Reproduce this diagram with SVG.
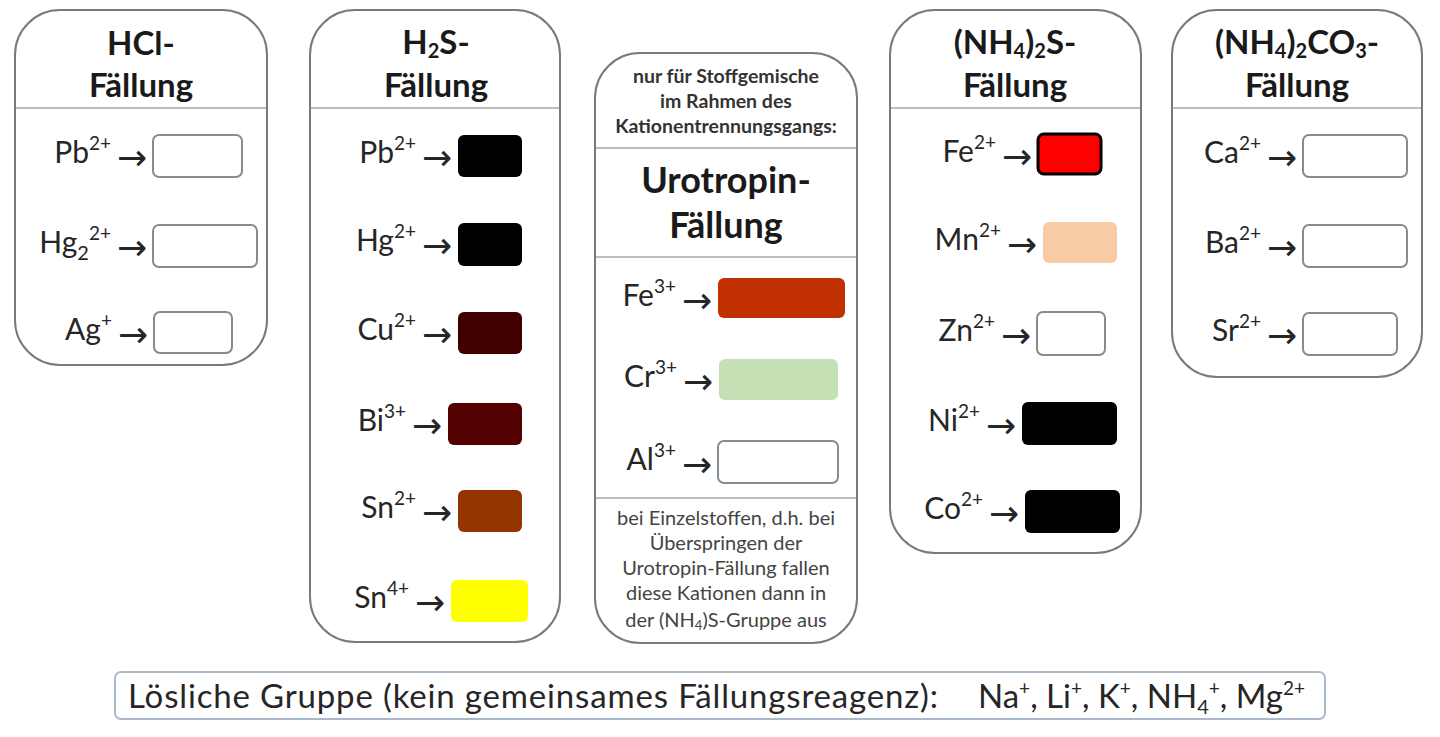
<svg xmlns="http://www.w3.org/2000/svg" width="1440" height="737" viewBox="0 0 1440 737">
<style>
.panel{fill:#fff;stroke:#7a7a7a;stroke-width:2}
.sep{stroke:#bdbdbd;stroke-width:2}
.t{font-family:Lato,"Liberation Sans",sans-serif;fill:#262626}
.title{font-size:33px;font-weight:bold;text-anchor:middle;fill:#1a1a1a}
.lab{font-size:30px;text-anchor:end}
.sup{font-size:19px}
.sub{font-size:20px}
.arr{font-family:"DejaVu Sans",sans-serif;font-size:36px;fill:#262626}
.small{font-size:19.5px;font-weight:bold;text-anchor:middle;fill:#333}
.note{font-size:20px;text-anchor:middle;fill:#444}
.empty{fill:#fff;stroke:#8a8a8a;stroke-width:2}
.bar{fill:#fff;stroke:#a9b8cc;stroke-width:2}
.barT{font-size:33px}
</style>
<rect width="1440" height="737" fill="#fff"/>

<g id="hcl">
<rect class="panel" x="15" y="10" width="252" height="355" rx="45"/>
<line class="sep" x1="16" y1="108" x2="266" y2="108"/>
<text class="t title" x="141" y="55">HCl-</text>
<text class="t title" x="141" y="97">Fällung</text>
<text class="t lab" x="111" y="163">Pb<tspan class="sup" dy="-13">2+</tspan></text>
<text class="arr" x="117" y="170">→</text>
<rect class="empty" x="153" y="135" width="89" height="42" rx="6"/>
<text class="t lab" x="111" y="253">Hg<tspan class="sub" dy="7">2</tspan><tspan class="sup" dy="-20">2+</tspan></text>
<text class="arr" x="117" y="260">→</text>
<rect class="empty" x="153" y="225" width="104" height="42" rx="6"/>
<text class="t lab" x="112" y="340">Ag<tspan class="sup" dy="-13">+</tspan></text>
<text class="arr" x="118" y="347">→</text>
<rect class="empty" x="154" y="312" width="78" height="41" rx="6"/>
</g>

<g id="h2s">
<rect class="panel" x="310" y="10" width="250" height="632" rx="45"/>
<line class="sep" x1="311" y1="108" x2="559" y2="108"/>
<text class="t title" x="436" y="54">H<tspan class="sub" dy="4">2</tspan><tspan dy="-4">S-</tspan></text>
<text class="t title" x="436" y="97">Fällung</text>
<text class="t lab" x="416" y="163">Pb<tspan class="sup" dy="-13">2+</tspan></text>
<text class="arr" x="422" y="170">→</text>
<rect x="458" y="135" width="64" height="42" rx="6" fill="#000"/>
<text class="t lab" x="416" y="251">Hg<tspan class="sup" dy="-13">2+</tspan></text>
<text class="arr" x="422" y="258">→</text>
<rect x="458" y="223" width="64" height="43" rx="6" fill="#000"/>
<text class="t lab" x="416" y="340">Cu<tspan class="sup" dy="-13">2+</tspan></text>
<text class="arr" x="422" y="347">→</text>
<rect x="458" y="312" width="64" height="42" rx="6" fill="#400000"/>
<text class="t lab" x="406" y="431">Bi<tspan class="sup" dy="-13">3+</tspan></text>
<text class="arr" x="412" y="438">→</text>
<rect x="448" y="403" width="74" height="42" rx="6" fill="#520000"/>
<text class="t lab" x="416" y="518">Sn<tspan class="sup" dy="-13">2+</tspan></text>
<text class="arr" x="422" y="525">→</text>
<rect x="458" y="490" width="64" height="42" rx="6" fill="#943500"/>
<text class="t lab" x="409" y="608">Sn<tspan class="sup" dy="-13">4+</tspan></text>
<text class="arr" x="415" y="615">→</text>
<rect x="451" y="580" width="77" height="42" rx="6" fill="#ffff00"/>
</g>

<g id="urotropin">
<rect class="panel" x="595" y="53" width="262" height="590" rx="45"/>
<line class="sep" x1="596" y1="148" x2="856" y2="148"/>
<text class="t small" x="726" y="83">nur für Stoffgemische</text>
<text class="t small" x="726" y="108">im Rahmen des</text>
<text class="t small" x="726" y="133">Kationentrennungsgangs:</text>
<text class="t title" x="726" y="193" style="font-size:36px">Urotropin-</text>
<text class="t title" x="726" y="238" style="font-size:36px">Fällung</text>
<line class="sep" x1="596" y1="257" x2="856" y2="257"/>
<text class="t lab" x="676" y="306">Fe<tspan class="sup" dy="-13">3+</tspan></text>
<text class="arr" x="682" y="313">→</text>
<rect x="718" y="278" width="127" height="40" rx="6" fill="#c03000"/>
<text class="t lab" x="677" y="387">Cr<tspan class="sup" dy="-13">3+</tspan></text>
<text class="arr" x="683" y="394">→</text>
<rect x="719" y="359" width="119" height="41" rx="6" fill="#c5e0b4"/>
<text class="t lab" x="676" y="470">Al<tspan class="sup" dy="-13">3+</tspan></text>
<text class="arr" x="682" y="477">→</text>
<rect class="empty" x="718" y="441" width="120" height="42" rx="6"/>
<line class="sep" x1="596" y1="498" x2="856" y2="498"/>
<text class="t note" x="726" y="525">bei Einzelstoffen, d.h. bei</text>
<text class="t note" x="726" y="550">Überspringen der</text>
<text class="t note" x="726" y="575">Urotropin-Fällung fallen</text>
<text class="t note" x="726" y="600">diese Kationen dann in</text>
<text class="t note" x="726" y="627">der (NH<tspan style="font-size:13px" dy="3">4</tspan><tspan dy="-3">)S-Gruppe aus</tspan></text>
</g>

<g id="nh4s">
<rect class="panel" x="890" y="10" width="251" height="543" rx="45"/>
<line class="sep" x1="891" y1="108" x2="1140" y2="108"/>
<text class="t title" x="1015" y="54">(NH<tspan class="sub" dy="4">4</tspan><tspan dy="-4">)</tspan><tspan class="sub" dy="4">2</tspan><tspan dy="-4">S-</tspan></text>
<text class="t title" x="1015" y="97">Fällung</text>
<text class="t lab" x="996" y="162">Fe<tspan class="sup" dy="-13">2+</tspan></text>
<text class="arr" x="1002" y="169">→</text>
<rect x="1038" y="134" width="63" height="40" rx="6" fill="#ff0000" stroke="#000" stroke-width="3"/>
<text class="t lab" x="1001" y="250">Mn<tspan class="sup" dy="-13">2+</tspan></text>
<text class="arr" x="1007" y="257">→</text>
<rect x="1043" y="222" width="74" height="41" rx="6" fill="#f6cba6"/>
<text class="t lab" x="995" y="341">Zn<tspan class="sup" dy="-13">2+</tspan></text>
<text class="arr" x="1001" y="348">→</text>
<rect class="empty" x="1037" y="312" width="68" height="43" rx="6"/>
<text class="t lab" x="980" y="431">Ni<tspan class="sup" dy="-13">2+</tspan></text>
<text class="arr" x="986" y="438">→</text>
<rect x="1022" y="402" width="95" height="43" rx="6" fill="#000"/>
<text class="t lab" x="983" y="519">Co<tspan class="sup" dy="-13">2+</tspan></text>
<text class="arr" x="989" y="526">→</text>
<rect x="1025" y="490" width="95" height="43" rx="6" fill="#000"/>
</g>

<g id="nh4co3">
<rect class="panel" x="1172" y="10" width="250" height="367" rx="45"/>
<line class="sep" x1="1173" y1="108" x2="1421" y2="108"/>
<text class="t title" x="1297" y="54">(NH<tspan class="sub" dy="4">4</tspan><tspan dy="-4">)</tspan><tspan class="sub" dy="4">2</tspan><tspan dy="-4">CO</tspan><tspan class="sub" dy="4">3</tspan><tspan dy="-4">-</tspan></text>
<text class="t title" x="1297" y="97">Fällung</text>
<text class="t lab" x="1261" y="163">Ca<tspan class="sup" dy="-13">2+</tspan></text>
<text class="arr" x="1267" y="170">→</text>
<rect class="empty" x="1303" y="135" width="104" height="42" rx="6"/>
<text class="t lab" x="1261" y="253">Ba<tspan class="sup" dy="-13">2+</tspan></text>
<text class="arr" x="1267" y="260">→</text>
<rect class="empty" x="1303" y="225" width="104" height="42" rx="6"/>
<text class="t lab" x="1261" y="341">Sr<tspan class="sup" dy="-13">2+</tspan></text>
<text class="arr" x="1267" y="348">→</text>
<rect class="empty" x="1303" y="313" width="94" height="42" rx="6"/>
</g>

<g id="loesliche">
<rect class="bar" x="115" y="672" width="1210" height="47" rx="6"/>
<text class="t barT" x="128" y="708" textLength="810" lengthAdjust="spacing">Lösliche Gruppe (kein gemeinsames Fällungsreagenz):</text>
<text class="t barT" x="978" y="708">Na<tspan class="sup" dy="-13">+</tspan><tspan dy="13">, Li</tspan><tspan class="sup" dy="-13">+</tspan><tspan dy="13">, K</tspan><tspan class="sup" dy="-13">+</tspan><tspan dy="13">, NH</tspan><tspan class="sub" dy="6">4</tspan><tspan class="sup" dy="-19">+</tspan><tspan dy="13">, Mg</tspan><tspan class="sup" dy="-13">2+</tspan></text>
</g>
</svg>
